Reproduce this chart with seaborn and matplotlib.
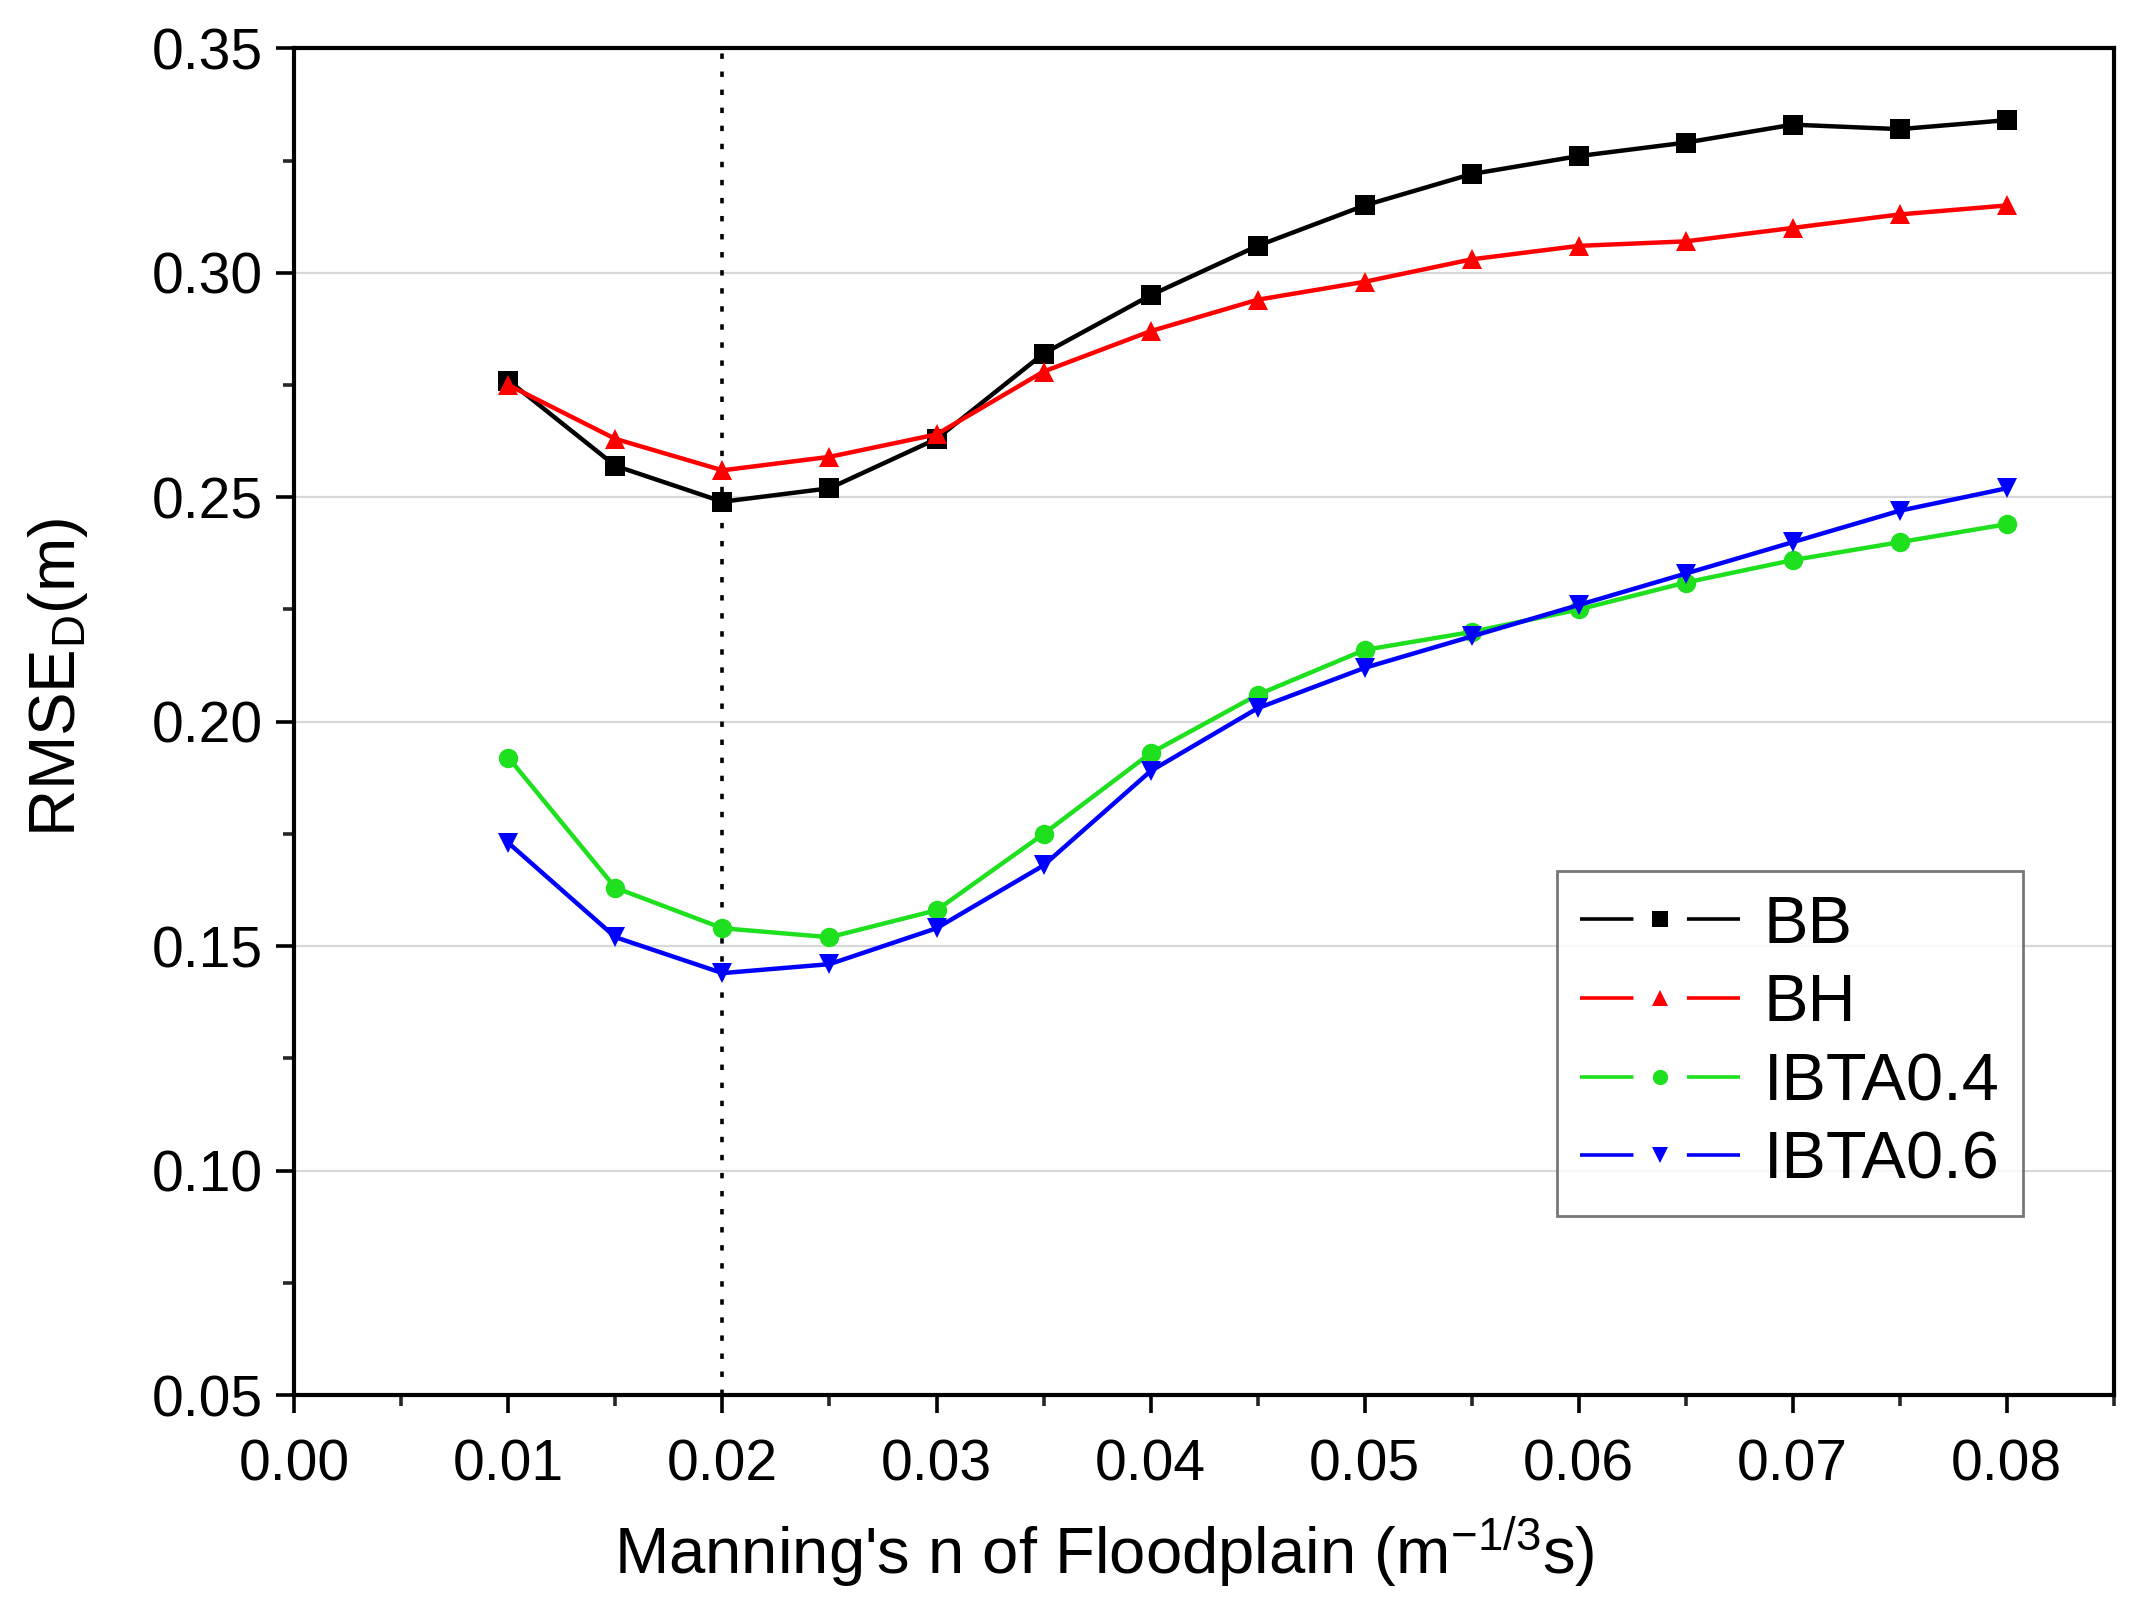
import matplotlib
matplotlib.use('Agg')
import matplotlib.pyplot as plt
import seaborn as sns
import pandas as pd
from matplotlib.lines import Line2D
from matplotlib.ticker import MultipleLocator

manning_n = [0.010, 0.015, 0.020, 0.025, 0.030, 0.035, 0.040, 0.045,
             0.050, 0.055, 0.060, 0.065, 0.070, 0.075, 0.080]

bb = [0.276, 0.257, 0.249, 0.252, 0.263, 0.282, 0.295, 0.306,
      0.315, 0.322, 0.326, 0.329, 0.333, 0.332, 0.334]
bh = [0.275, 0.263, 0.256, 0.259, 0.264, 0.278, 0.287, 0.294,
      0.298, 0.303, 0.306, 0.307, 0.310, 0.313, 0.315]
ibta04 = [0.192, 0.163, 0.154, 0.152, 0.158, 0.175, 0.193, 0.206,
          0.216, 0.220, 0.225, 0.231, 0.236, 0.240, 0.244]
ibta06 = [0.173, 0.152, 0.144, 0.146, 0.154, 0.168, 0.189, 0.203,
          0.212, 0.219, 0.226, 0.233, 0.240, 0.247, 0.252]

series_names = ['BB', 'BH', 'IBTA0.4', 'IBTA0.6']
series_values = [bb, bh, ibta04, ibta06]

rows = []
for name, vals in zip(series_names, series_values):
    for x, y in zip(manning_n, vals):
        rows.append({'n': x, 'RMSE': y, 'Scheme': name})
df = pd.DataFrame(rows)

palette = {'BB': 'black', 'BH': '#FF0000', 'IBTA0.4': '#1EE01E', 'IBTA0.6': '#0000FF'}
markers = {'BB': 's', 'BH': '^', 'IBTA0.4': 'o', 'IBTA0.6': 'v'}

sns.set_style('white')
plt.rcParams['font.family'] = ['Liberation Sans', 'DejaVu Sans']
plt.rcParams['mathtext.default'] = 'regular'
plt.rcParams['text.color'] = 'black'
plt.rcParams['axes.labelcolor'] = 'black'

fig = plt.figure(figsize=(10.665, 8.055), dpi=200)
ax = fig.add_axes([0.138, 0.134, 0.853, 0.836])

# reference line at the optimum
ax.axvline(0.02, color='black', linestyle=(0, (1.5, 3.5)), linewidth=1.3, zorder=1)

sns.lineplot(data=df, x='n', y='RMSE', hue='Scheme', style='Scheme',
             hue_order=series_names, style_order=series_names,
             palette=palette, markers=markers, dashes=False,
             linewidth=1.6, markersize=7, markeredgewidth=0, ax=ax, zorder=3,
             legend=False)

ax.set_xlim(0, 0.085)
ax.set_ylim(0.05, 0.35)
ax.xaxis.set_major_locator(MultipleLocator(0.01))
ax.xaxis.set_minor_locator(MultipleLocator(0.005))
ax.yaxis.set_major_locator(MultipleLocator(0.05))
ax.yaxis.set_minor_locator(MultipleLocator(0.025))
ax.xaxis.set_major_formatter(plt.FuncFormatter(lambda v, p: f'{v:.2f}'))
ax.yaxis.set_major_formatter(plt.FuncFormatter(lambda v, p: f'{v:.2f}'))

ax.grid(axis='y', which='major', color='#D8D8D8', linewidth=0.8)
ax.set_axisbelow(True)

for sp in ax.spines.values():
    sp.set_linewidth(1.5)
    sp.set_color('black')

ax.tick_params(axis='both', which='major', direction='out', length=6.5, width=1.3,
               labelsize=20.5, colors='black', bottom=True, left=True)
ax.tick_params(axis='x', which='major', pad=9)
ax.tick_params(axis='y', which='major', pad=5)
ax.tick_params(axis='both', which='minor', direction='out', length=4, width=1.3,
               bottom=True, left=True)

ax.set_xlabel(r"Manning's n of Floodplain (m$^{-1/3}$s)", fontsize=23.5, labelpad=8)
ax.xaxis.label.set_x(0.445)
ax.set_ylabel(r'RMSE$_{D}$(m)', fontsize=23.5, labelpad=22)
ax.yaxis.label.set_y(0.533)

# legend handles: line - marker - line with gaps, like the original
handles = [Line2D([], [], color=palette[s], marker=markers[s], markersize=5.5,
                  markeredgewidth=0, linewidth=1.3, linestyle=(0, (14.8, 14.8)))
           for s in series_names]
leg = ax.legend(handles, series_names, loc='lower right', bbox_to_anchor=(0.95, 0.133),
                fontsize=24, numpoints=1, frameon=True, fancybox=False,
                edgecolor='#555555', handlelength=2.4, handletextpad=0.35,
                borderpad=0.35, labelspacing=0.25, borderaxespad=0)
leg.get_frame().set_linewidth(1.0)

fig.savefig('out.png', dpi=200)
